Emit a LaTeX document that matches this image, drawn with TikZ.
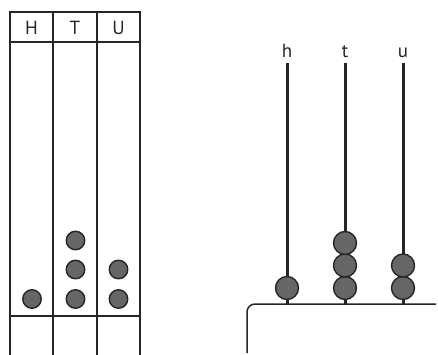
\documentclass[tikz,border=0pt]{standalone}
\usepackage{fontspec}
\setmainfont{PT Sans}
\begin{document}
\begin{tikzpicture}[x=1pt,y=-1pt,
  grid/.style={line width=1.8pt,draw=black!85},
  counter/.style={circle,draw=black!85,fill=black!60,line width=1.4pt,minimum size=18.5pt,inner sep=0pt},
  rod/.style={line width=3pt,draw=black!85},
  bead/.style={circle,draw=black!85,fill=black!60,line width=1.4pt,minimum size=23pt,inner sep=0pt},
  lbl/.style={font=\fontsize{19pt}{22pt}\selectfont,text=black!85,inner sep=0pt}]
\useasboundingbox (0,0) rectangle (438,355);
% place value table
\draw[grid] (10,355) -- (10,12) -- (140,12) -- (140,355);
\draw[grid] (53,12) -- (53,355);
\draw[grid] (97,12) -- (97,355);
\draw[grid] (10,42) -- (140,42);
\draw[grid] (10,316) -- (140,316);
\node[lbl] (H) at (31.5,27.5) {H};
\node[lbl] (T) at (75,27.5) {T};
\node[lbl] (U) at (118.5,27.5) {U};
\node[counter] (c1) at (32,299) {};
\node[counter] (c2) at (75.5,299) {};
\node[counter] (c3) at (75.5,269.5) {};
\node[counter] (c4) at (75.5,240.5) {};
\node[counter] (c5) at (118.5,299) {};
\node[counter] (c6) at (118.5,269.5) {};
% abacus
\draw[grid,line width=1.5pt] (247,353) -- (247,312) arc[start angle=180,end angle=270,radius=8] -- (436,304);
\coordinate (bh) at (287,304);
\coordinate (bt) at (345,304);
\coordinate (bu) at (403,304);
\coordinate (th) at (287,63);
\coordinate (tt) at (345,63);
\coordinate (tu) at (403,63);
\draw[rod] (th) -- (bh);
\draw[rod] (tt) -- (bt);
\draw[rod] (tu) -- (bu);
\node[lbl,anchor=base] (h) at (287,58) {h};
\node[lbl,anchor=base] (t) at (345,58) {t};
\node[lbl,anchor=base] (u) at (403,58) {u};
\node[bead] (b1) at (287,288) {};
\node[bead] (b2) at (345,288) {};
\node[bead] (b3) at (345,265.5) {};
\node[bead] (b4) at (345,243) {};
\node[bead] (b5) at (403,288) {};
\node[bead] (b6) at (403,265.5) {};
\end{tikzpicture}
\end{document}
